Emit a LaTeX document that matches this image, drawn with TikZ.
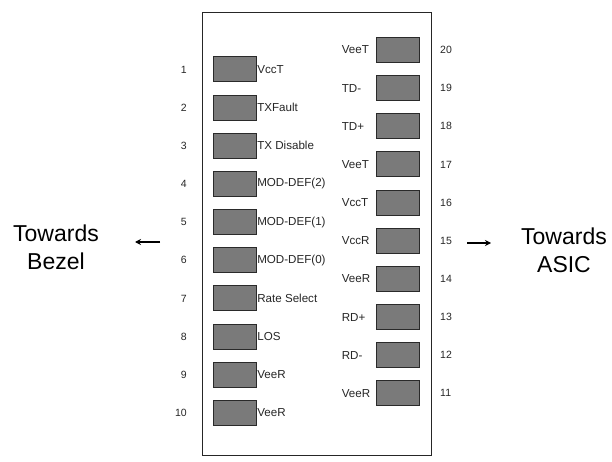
\documentclass[tikz,border=0pt]{standalone}
\usepackage{fontspec}
\setmainfont{Liberation Sans}
\usetikzlibrary{arrows.meta}
\definecolor{padfill}{HTML}{7A7A7A}
\definecolor{padline}{HTML}{2A2A2A}
\tikzset{
  pad/.style={draw=padline, fill=padfill, line width=1pt, minimum width=43pt, minimum height=25pt, inner sep=0pt},
  padlabel/.style={font=\fontsize{11.6}{13}\selectfont, inner sep=0.6pt, text=black!85},
  pinnum/.style={font=\fontsize{10.5}{12}\selectfont, inner sep=0pt, text=black!85},
  side/.style={font=\fontsize{23}{28}\selectfont, align=center, inner sep=0pt},
  dirarrow/.style={-{Stealth[length=6pt,width=6pt]}, line width=1.1pt}
}
\begin{document}
\begin{tikzpicture}[x=1pt,y=-1pt]
\useasboundingbox (0,0) rectangle (612,462);
\node[draw=black!85, line width=1pt, minimum width=229pt, minimum height=443pt, inner sep=0pt] (module) at (316.5,234) {};
% left pads
\foreach \i/\t in {1/VccT,2/TXFault,3/TX Disable,4/MOD-DEF(2),5/MOD-DEF(1),6/MOD-DEF(0),7/Rate Select,8/LOS,9/VeeR,10/VeeR}{
  \node[pad] (p\i) at (234.5,{69.5+38.15*(\i-1)}) {};
  \node[padlabel, anchor=west] (l\i) at (p\i.east) {\t};
  \node[pinnum, anchor=east] (n\i) at (187,{69.5+38.15*(\i-1)}) {\i};
}
% right pads
\foreach \i/\t in {20/VeeT,19/TD-,18/TD+,17/VeeT,16/VccT,15/VccR,14/VeeR,13/RD+,12/RD-,11/VeeR}{
  \node[pad] (p\i) at (398,{50+38.15*(20-\i)}) {};
  \node[padlabel, anchor=west] (l\i) at (341,{50+38.15*(20-\i)}) {\t};
  \node[pinnum, anchor=west] (n\i) at (440,{50+38.15*(20-\i)}) {\i};
}
\node[side] (bezel) at (56,247) {Towards\\Bezel};
\node[side] (asic) at (564,250) {Towards\\ASIC};
\coordinate (la) at (160,242);
\coordinate (lb) at (135,242);
\coordinate (ra) at (467,243);
\coordinate (rb) at (491,243);
\draw[dirarrow] (la) -- (lb);
\draw[dirarrow] (ra) -- (rb);
\end{tikzpicture}
\end{document}
